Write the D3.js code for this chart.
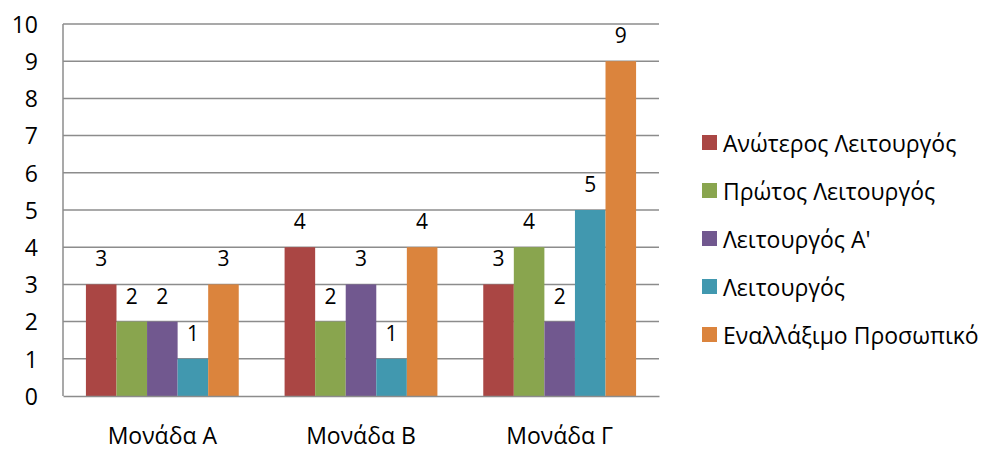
<!DOCTYPE html>
<html>
<head>
<meta charset="utf-8">
<script src="https://cdn.jsdelivr.net/npm/d3@7"></script>
<style>
  html, body { margin: 0; padding: 0; background: #fff; }
  svg text { font-family: "Open Sans", "Noto Sans", sans-serif; fill: #000; }
</style>
</head>
<body>
<svg id="chart" width="983" height="450"></svg>
<script>
const categories = ["Μονάδα Α", "Μονάδα Β", "Μονάδα Γ"];
const seriesNames = ["Ανώτερος Λειτουργός", "Πρώτος Λειτουργός", "Λειτουργός Α'", "Λειτουργός", "Εναλλάξιμο Προσωπικό"];
const seriesColors = ["#AA4644", "#89A54E", "#71588F", "#4198AF", "#DB843D"];
const anoteros = [3, 4, 3];
const protos = [2, 2, 4];
const leitourgosA = [2, 3, 2];
const leitourgos = [1, 1, 5];
const enallaximo = [3, 4, 9];
const seriesValues = [anoteros, protos, leitourgosA, leitourgos, enallaximo];
const yTicks = [0, 1, 2, 3, 4, 5, 6, 7, 8, 9, 10];

const svg = d3.select("#chart");
const plot = { left: 63, right: 659, top: 24, bottom: 396 };

const x0 = d3.scaleBand().domain(categories).range([plot.left, plot.right]).paddingInner(0).paddingOuter(0);
const gapRatio = 1.5;
const barW = x0.bandwidth() / (seriesNames.length + gapRatio);
const x1 = d3.scaleBand().domain(d3.range(seriesNames.length))
  .range([0, barW * seriesNames.length]);
const y = d3.scaleLinear().domain([0, 10]).range([plot.bottom, plot.top]);

// gridlines
svg.append("g").selectAll("line").data(yTicks.filter(d => d > 0)).join("line")
  .attr("x1", plot.left).attr("x2", plot.right)
  .attr("y1", d => y(d)).attr("y2", d => y(d))
  .attr("stroke", "#8c8c8c").attr("stroke-width", 1.5);

// y axis
const yAxis = d3.axisLeft(y).tickValues(yTicks).tickSize(0).tickPadding(0).tickFormat(d3.format("d"));
const gy = svg.append("g").attr("transform", `translate(${plot.left},0)`).call(yAxis);
gy.select(".domain").remove();
gy.selectAll("text").attr("x", -25).attr("font-size", 23).attr("dy", "0.36em")
  .style("font-family", "'Open Sans', sans-serif");

// bars
const groups = svg.append("g").selectAll("g").data(categories).join("g")
  .attr("transform", c => `translate(${x0(c) + (x0.bandwidth() - barW * seriesNames.length) / 2},0)`);

groups.each(function(c, ci) {
  const g = d3.select(this);
  const vals = seriesValues.map((s, si) => ({ si, v: s[ci] }));
  g.selectAll("rect").data(vals).join("rect")
    .attr("x", d => x1(d.si)).attr("width", x1.bandwidth())
    .attr("y", d => y(d.v)).attr("height", d => y(0) - y(d.v))
    .attr("fill", d => seriesColors[d.si]);
  g.selectAll("text").data(vals).join("text")
    .attr("x", d => x1(d.si) + x1.bandwidth() / 2)
    .attr("y", d => y(d.v) - 18)
    .attr("text-anchor", "middle").attr("font-size", 21)
    .text(d => d.v);
});

// axis lines
svg.append("line").attr("x1", plot.left).attr("x2", plot.left)
  .attr("y1", plot.top).attr("y2", plot.bottom).attr("stroke", "#8c8c8c").attr("stroke-width", 1.5);
const xAxis = d3.axisBottom(x0).tickSize(0).tickPadding(0);
const gx = svg.append("g").attr("transform", `translate(0,${plot.bottom})`).call(xAxis);
gx.select(".domain").attr("stroke", "#8c8c8c").attr("stroke-width", 1.5);
gx.selectAll("text").attr("y", 47.5).attr("dy", 0).attr("font-size", 23)
  .style("font-family", "'Open Sans', sans-serif");

// legend
const legend = svg.append("g").selectAll("g").data(seriesNames).join("g")
  .attr("transform", (d, i) => `translate(702,${142.5 + i * 48})`);
legend.append("rect").attr("x", 0).attr("y", -7.5).attr("width", 15).attr("height", 15)
  .attr("fill", (d, i) => seriesColors[i]);
legend.append("text").attr("x", 21).attr("y", 9.5)
  .attr("font-size", 23).text(d => d);
</script>
</body>
</html>
